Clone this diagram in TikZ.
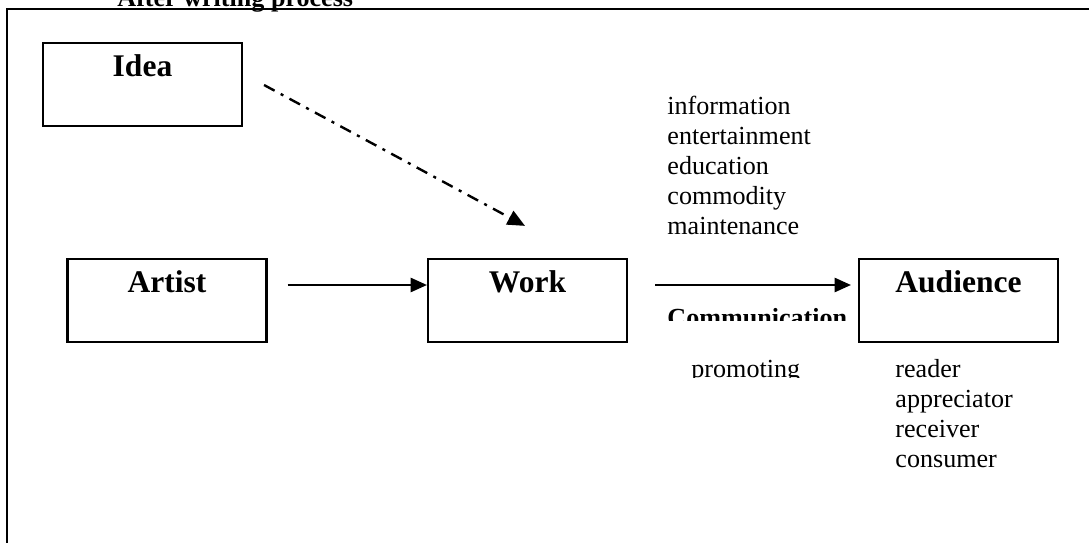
\documentclass[tikz,border=0pt]{standalone}
\usepackage{fontspec}
\setmainfont{Liberation Serif}
\usetikzlibrary{arrows.meta,calc}
\tikzset{
  stage/.style={draw,line width=1pt,inner sep=0pt,minimum width=91.5pt,
    text height=15.6pt,text depth=22.6pt,font=\fontsize{14.5}{17}\selectfont\bfseries},
  flow/.style={line width=1pt,-{Triangle[length=7.5pt,width=6.5pt]}},
  hint/.style={line width=1.1pt,dash pattern=on 5.5pt off 3.2pt on 1.4pt off 3.2pt,
    -{Triangle[length=8pt,width=7pt]}},
  words/.style={anchor=north west,inner sep=0pt,align=left,font=\fontsize{12}{13.8}\selectfont},
}
\begin{document}
\begin{tikzpicture}[x=0.46pt,y=-0.46pt]
        \clip (0,0) rectangle (1089,543);
        \draw[line width=1pt] (7,9) rectangle (1100,560);
        \node[anchor=base west,inner sep=0pt,font=\fontsize{12}{14}\selectfont\bfseries] (title) at (117,6) {After writing process};

        \node[stage] (idea) at (142.5,84.5) {Idea};
        \node[stage] (artist) at (167,300.5) {Artist};
        \node[stage] (work) at (527.5,300.5) {Work};
        \node[stage] (audience) at (958.5,300.5) {Audience};

        \draw[flow] ($(artist.east)+(20,-15.5)$) -- ($(work.west)+(0,-15.5)$);
        \draw[flow] ($(work.east)+(27,-15.5)$) -- ($(audience.west)+(-7,-15.5)$);
        \draw[hint] ($(idea.east)+(21,0.5)$) -- ($(work.north)+(-2.5,-32)$);

        \node[words] (uses) at (667,96) {information\\entertainment\\education\\commodity\\maintenance};
        \node[words] (roles) at (895,359) {reader\\appreciator\\receiver\\consumer};

        \begin{scope}
        \clip (640,300) rectangle (850,320);
        \node[anchor=base west,inner sep=0pt,font=\fontsize{12}{14}\selectfont\bfseries] (comm) at (667,326) {Communication};
        \end{scope}
        \begin{scope}
        \clip (680,350) rectangle (820,377.5);
        \node[anchor=base west,inner sep=0pt,font=\fontsize{12}{14}\selectfont] (prom) at (691,377) {promoting};
        \end{scope}
\end{tikzpicture}
\end{document}
